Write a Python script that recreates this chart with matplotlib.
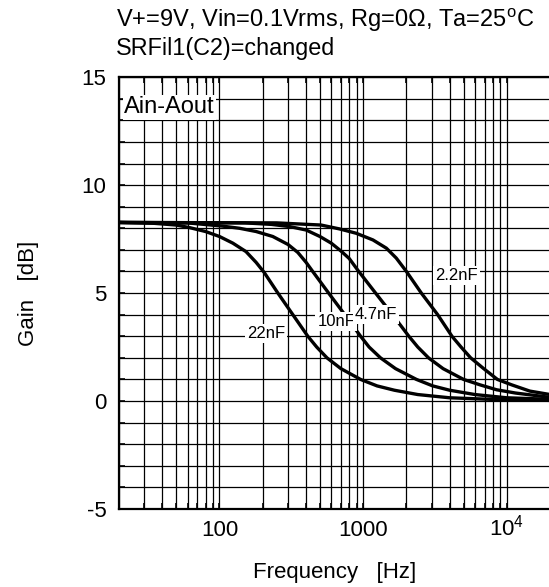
import numpy as np
import matplotlib
matplotlib.use("Agg")
import matplotlib.pyplot as plt
from matplotlib.ticker import FixedLocator, NullFormatter
from matplotlib.transforms import ScaledTranslation

plt.rcParams['font.family'] = ['Liberation Sans', 'DejaVu Sans']
plt.rcParams['mathtext.fontset'] = 'custom'
plt.rcParams['mathtext.rm'] = 'Liberation Sans'
plt.rcParams['axes.unicode_minus'] = False

# gain [dB] vs frequency [Hz] for each SRFil1 capacitor
f_22n = [20, 35, 50, 62, 80, 100, 124, 153, 180, 205, 255, 324, 412, 475, 560, 700, 960,
         1250, 1650, 2400, 4000, 10000, 20000]
g_22n = [8.27, 8.23, 8.15, 8.03, 7.85, 7.62, 7.31, 6.92, 6.42, 5.95, 5.0, 4.0, 3.0, 2.5, 2.0, 1.5, 1.0,
         0.7, 0.5, 0.3, 0.15, 0.05, 0.03]

f_10n = [20, 60, 105, 138, 180, 235, 300, 351, 401, 440, 575, 745, 960, 1100, 1320, 1680, 2350,
         3050, 4000, 6000, 10000, 20000]
g_10n = [8.27, 8.25, 8.1, 8.0, 7.85, 7.62, 7.25, 6.88, 6.42, 6.05, 5.0, 4.0, 3.0, 2.5, 2.0, 1.5, 1.0,
         0.7, 0.5, 0.3, 0.15, 0.08]

f_4n7 = [20, 150, 230, 307, 401, 500, 600, 700, 800, 920, 1220, 1600, 2080, 2400, 2850, 3600, 5000,
         6500, 8500, 11500, 20000]
g_4n7 = [8.27, 8.25, 8.18, 8.08, 7.92, 7.62, 7.31, 6.95, 6.6, 6.05, 5.0, 4.0, 3.0, 2.5, 2.0, 1.5, 1.0,
         0.75, 0.52, 0.37, 0.17]

f_2n2 = [20, 250, 510, 685, 894, 1170, 1450, 1700, 2000, 2540, 3300, 4150, 4800, 5600, 6900, 8600,
         10800, 14450, 20000]
g_2n2 = [8.27, 8.25, 8.15, 7.97, 7.77, 7.46, 7.08, 6.62, 6.0, 5.0, 4.0, 3.0, 2.5, 2.0, 1.5, 1.0,
         0.75, 0.46, 0.3]

curves = [(f_22n, g_22n), (f_10n, g_10n), (f_4n7, g_4n7), (f_2n2, g_2n2)]
cap_labels = ["22nF", "10nF", "4.7nF", "2.2nF"]
label_pos = [(210, 3.15), (650, 3.7), (1230, 4.0), (4450, 5.8)]

fig = plt.figure(figsize=(5.49, 5.87), dpi=100)
ax = fig.add_axes([0.2168, 0.1329, 0.7852, 0.7357])

for f, g in curves:
    ax.plot(f, g, color='black', lw=2.4, solid_joinstyle='round', solid_capstyle='round', zorder=3)

for txt, (x, y) in zip(cap_labels, label_pos):
    ax.text(x, y, txt, fontsize=12, ha='center', va='center', zorder=4,
            bbox=dict(facecolor='white', edgecolor='none', pad=1.5))

ax.text(21.8, 13.6, "Ain-Aout", fontsize=17, ha='left', va='center', zorder=4,
        bbox=dict(facecolor='white', edgecolor='none', pad=1))

ax.set_xscale('log')
ax.set_xlim(20, 20000)
ax.set_ylim(-5, 15)

ax.xaxis.set_major_locator(FixedLocator([100, 1000, 10000]))
ax.set_xticklabels(["100", "1000", r"10$^{4}$"])
minors = [m * d for d in (10, 100, 1000, 10000) for m in range(2, 10) if 20 <= m * d <= 20000]
ax.xaxis.set_minor_locator(FixedLocator(minors))
ax.xaxis.set_minor_formatter(NullFormatter())
ax.set_yticks([-5, 0, 5, 10, 15])
ax.yaxis.set_minor_locator(FixedLocator(np.arange(-5, 16, 1)))

ax.grid(True, which='both', color='black', lw=0.9)
ax.tick_params(which='both', direction='in', labelsize=16, length=4, width=1.2, top=True)
ax.tick_params(axis='x', pad=8)
ax.tick_params(axis='y', pad=9)
for s in ax.spines.values():
    s.set_linewidth(1.6)

# keep the "10" of 10^4 on the same baseline as the other labels
lbl = ax.xaxis.get_major_ticks()[2].label1
lbl.set_transform(lbl.get_transform() + ScaledTranslation(0, 0.055, fig.dpi_scale_trans))

ax.set_xlabel("Frequency   [Hz]", fontsize=16, labelpad=15)
ax.set_ylabel("Gain   [dB]", fontsize=16, labelpad=31)

fig.text(0.211, 0.954, r"V+=9V, Vin=0.1Vrms, Rg=0Ω, Ta=25$^{\mathrm{o}}$C", fontsize=17, va='baseline')
fig.text(0.211, 0.906, "SRFil1(C2)=changed", fontsize=16.8, va='baseline')

fig.savefig("out.png", dpi=100)
